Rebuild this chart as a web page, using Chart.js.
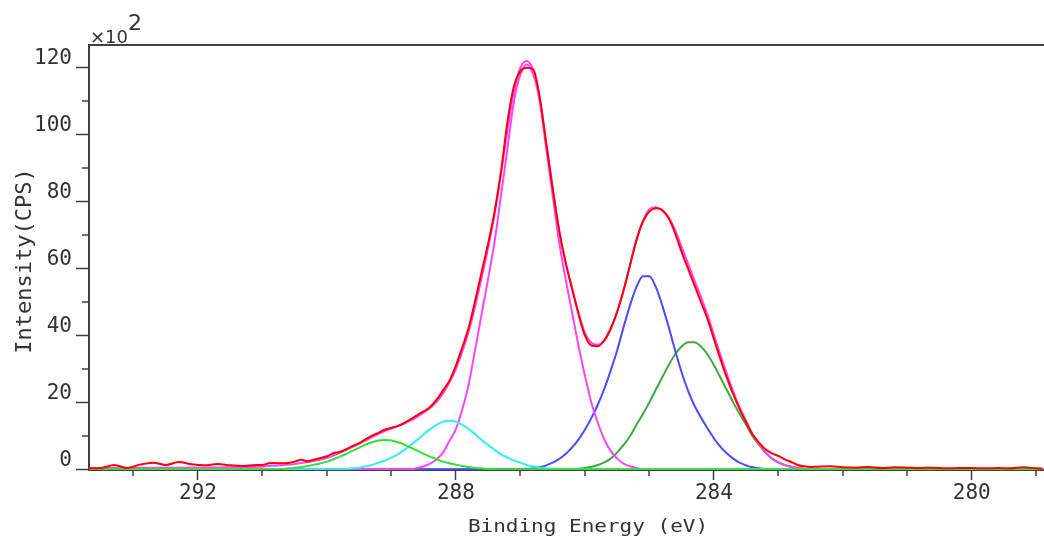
<!DOCTYPE html>
<html>
<head>
<meta charset="utf-8">
<title>C 1s</title>
<script src="https://cdn.jsdelivr.net/npm/chart.js@4.4.1/dist/chart.umd.min.js"></script>
<style>
  html, body { margin: 0; padding: 0; background: #fff; }
  #wrap { width: 1044px; height: 541px; }
</style>
</head>
<body>
<div id="wrap"><canvas id="xps" width="1044" height="541"></canvas></div>
<script>
const AXIS = '#404040';
const TEXT = '#333333';

// binding energy grid for the fitted curves (eV), ends pinned to the plot edges
const fitEnergy = [
  293.7,
  291.0, 290.9, 290.8, 290.7, 290.6, 290.5, 290.4, 290.3, 290.2, 290.1,
  290.0, 289.9, 289.8, 289.7, 289.6, 289.5, 289.4, 289.3, 289.2, 289.1,
  289.0, 288.9, 288.8, 288.7, 288.6, 288.5, 288.4, 288.3, 288.2, 288.1,
  288.0, 287.9, 287.8, 287.7, 287.6, 287.5, 287.4, 287.3, 287.2, 287.1,
  287.0, 286.9, 286.8, 286.7, 286.6, 286.5, 286.4, 286.3, 286.2, 286.1,
  286.0, 285.9, 285.8, 285.7, 285.6, 285.5, 285.4, 285.3, 285.2, 285.1,
  285.0, 284.9, 284.8, 284.7, 284.6, 284.5, 284.4, 284.3, 284.2, 284.1,
  284.0, 283.9, 283.8, 283.7, 283.6, 283.5, 283.4, 283.3, 283.2, 283.1,
  283.0, 282.9, 282.8, 282.7, 282.6, 282.5, 282.4,
  278.9
];

// component near 289.1 eV (x100 CPS)
const peakLightGreen = [
  0,
  0, 0, 0.05, 0.1, 0.3, 0.4, 0.7, 1.0, 1.4, 1.8,
  2.3, 3.0, 3.8, 4.6, 5.6, 6.5, 7.4, 8.1, 8.6, 8.8,
  8.6, 8.1, 7.4, 6.5, 5.6, 4.6, 3.8, 3.0, 2.3, 1.8,
  1.4, 1.0, 0.7, 0.4, 0.3, 0.1, 0.05, 0, 0, 0,
  0, 0, 0, 0, 0, 0, 0, 0, 0, 0,
  0, 0, 0, 0, 0, 0, 0, 0, 0, 0,
  0, 0, 0, 0, 0, 0, 0, 0, 0, 0,
  0, 0, 0, 0, 0, 0, 0, 0, 0, 0,
  0, 0, 0, 0, 0, 0, 0,
  0
];

// component near 288.1 eV
const peakCyan = [
  0,
  0, 0, 0, 0, 0, 0, 0, 0, 0, 0,
  0, 0, 0, 0.1, 0.3, 0.5, 0.9, 1.3, 2.0, 2.6,
  3.5, 4.5, 5.8, 7.3, 8.8, 10.5, 12.0, 13.3, 14.2, 14.5,
  14.2, 13.3, 12.0, 10.5, 8.8, 7.3, 5.8, 4.5, 3.5, 2.6,
  2.0, 1.3, 0.9, 0.5, 0.3, 0.1, 0, 0, 0, 0,
  0, 0, 0, 0, 0, 0, 0, 0, 0, 0,
  0, 0, 0, 0, 0, 0, 0, 0, 0, 0,
  0, 0, 0, 0, 0, 0, 0, 0, 0, 0,
  0, 0, 0, 0, 0, 0, 0,
  0
];

// component near 286.9 eV
const peakMagenta = [
  0,
  0, 0, 0, 0, 0, 0, 0, 0, 0, 0,
  0, 0, 0, 0, 0, 0, 0, 0, 0, 0,
  0, 0, 0, 0, 0.4, 0.9, 1.7, 3.0, 5.0, 8.5,
  12, 18, 25.5, 36, 46.5, 57, 68, 82, 96, 110,
  118, 121, 118, 110, 96, 82, 68, 57, 47, 37,
  28, 20, 14, 9, 5.5, 3.2, 1.7, 0.9, 0.4, 0,
  0, 0, 0, 0, 0, 0, 0, 0, 0, 0,
  0, 0, 0, 0, 0, 0, 0, 0, 0, 0,
  0, 0, 0, 0, 0, 0, 0,
  0
];

// component near 285.05 eV
const peakBlue = [
  0,
  0, 0, 0, 0, 0, 0, 0, 0, 0, 0,
  0, 0, 0, 0, 0, 0, 0, 0, 0, 0,
  0, 0, 0, 0, 0, 0, 0, 0, 0, 0,
  0, 0, 0, 0, 0, 0, 0, 0, 0, 0,
  0, 0.1, 0.3, 0.6, 1.2, 2.0, 3.1, 4.6, 6.5, 8.9,
  11.8, 15.3, 19.3, 24, 29.5, 35.5, 42.5, 49, 54.5, 57.7,
  57.7, 54.5, 49, 42.5, 35.5, 29, 23.5, 19, 15.5, 12.3,
  9.3, 6.8, 4.8, 3.2, 2.0, 1.2, 0.6, 0.3, 0.1, 0,
  0, 0, 0, 0, 0, 0, 0,
  0
];

// component near 284.35 eV
const peakGreen = [
  0,
  0, 0, 0, 0, 0, 0, 0, 0, 0, 0,
  0, 0, 0, 0, 0, 0, 0, 0, 0, 0,
  0, 0, 0, 0, 0, 0, 0, 0, 0, 0,
  0, 0, 0, 0, 0, 0, 0, 0, 0, 0,
  0, 0, 0, 0, 0, 0, 0, 0, 0.1, 0.2,
  0.4, 0.8, 1.3, 2.1, 3.2, 5.0, 7.3, 9.9, 13.3, 16.5,
  20.0, 23.8, 27.5, 31.2, 34.4, 36.7, 38.0, 38.0, 36.7, 34.4,
  31.2, 27.5, 23.8, 20.0, 16.5, 13.3, 9.9, 7.3, 5.0, 3.2,
  2.1, 1.3, 0.8, 0.4, 0.2, 0.1, 0,
  0
];

// fitted envelope (components plus background)
const envelope = [
  0.4,
  0.8, 1.0, 1.1, 1.2, 1.4, 1.6, 1.9, 2.2, 2.5, 2.9,
  3.4, 4.1, 4.9, 5.8, 6.7, 7.6, 8.6, 9.6, 10.6, 11.5,
  12.2, 12.9, 13.7, 14.6, 15.7, 16.9, 18.3, 20.2, 22.7, 25.9,
  30.0, 35.2, 41.3, 48.8, 57.3, 66.3, 76.3, 88.5, 101.5, 113.0,
  120.0, 122.0, 119.2, 111.1, 97.5, 84.1, 71.5, 62.0, 54.3, 47.0,
  40.8, 37.8, 37.2, 38.5, 42.0, 47.0, 53.5, 61.0, 68.5, 74.2,
  77.7, 78.3, 77.3, 75.2, 71.5, 66.5, 61.5, 56.5, 51.5, 46.3,
  40.3, 34.3, 28.6, 23.2, 18.5, 14.5, 10.5, 7.6, 5.1, 3.3,
  2.1, 1.3, 0.8, 0.4, 0.2, 0.1, 0,
  0
];

// measured spectrum
const rawEnergy = [
  293.7, 293.5, 293.3, 293.1, 292.9, 292.7, 292.5, 292.3, 292.1, 291.9, 291.7, 291.5, 291.3, 291.1,
  291.0, 290.9, 290.8, 290.7, 290.6, 290.5, 290.4, 290.3, 290.2, 290.1,
  290.0, 289.9, 289.8, 289.7, 289.6, 289.5, 289.4, 289.3, 289.2, 289.1,
  289.0, 288.9, 288.8, 288.7, 288.6, 288.5, 288.4, 288.3, 288.2, 288.1,
  288.0, 287.9, 287.8, 287.7, 287.6, 287.5, 287.4, 287.3, 287.2, 287.1,
  287.0, 286.9, 286.8, 286.7, 286.6, 286.5, 286.4, 286.3, 286.2, 286.1,
  286.0, 285.9, 285.8, 285.7, 285.6, 285.5, 285.4, 285.3, 285.2, 285.1,
  285.0, 284.9, 284.8, 284.7, 284.6, 284.5, 284.4, 284.3, 284.2, 284.1,
  284.0, 283.9, 283.8, 283.7, 283.6, 283.5, 283.4, 283.3, 283.2, 283.1,
  283.0, 282.9, 282.8, 282.7, 282.6, 282.5, 282.4,
  282.2, 282.0, 281.8, 281.6, 281.4, 281.2, 281.0, 280.8, 280.6, 280.4, 280.2, 280.0,
  279.8, 279.6, 279.4, 279.2, 279.0, 278.9
];
const rawCounts = [
  0.3, 0.4, 1.3, 0.4, 1.4, 2.0, 1.3, 2.2, 1.5, 1.2, 1.6, 1.2, 1.0, 1.3,
  1.3, 1.8, 1.9, 1.8, 1.9, 2.3, 2.9, 2.4, 2.9, 3.4,
  3.9, 4.8, 5.2, 6.0, 7.0, 7.8, 9.0, 10.1, 10.9, 11.9,
  12.4, 13.0, 13.9, 15.0, 16.2, 17.3, 18.6, 20.8, 23.6, 26.5,
  31.0, 36.5, 42.5, 50.5, 59.0, 67.5, 77.0, 89.0, 104.0, 114.5,
  119.0, 120.0, 119.5, 111.0, 97.5, 84.0, 71.5, 62.0, 54.0, 46.5,
  40.0, 37.0, 36.8, 38.5, 42.0, 47.0, 53.5, 61.0, 68.5, 74.0,
  77.0, 78.0, 77.5, 75.0, 70.5, 65.0, 60.0, 55.0, 50.0, 45.0,
  39.0, 33.0, 27.5, 22.5, 18.0, 14.0, 10.5, 8.0, 6.0, 4.8,
  4.0, 3.0, 2.2, 1.3, 0.9, 0.7, 0.8,
  0.9, 0.6, 0.5, 0.7, 0.4, 0.6, 0.5, 0.4, 0.5, 0.3, 0.4, 0.4,
  0.3, 0.4, 0.3, 0.6, 0.3, 0.2
];

// unlabelled tick positions
const minorX = [293, 291, 290, 289, 287, 286, 285, 283, 282, 281, 279];
const minorY = [10, 30, 50, 70, 90, 110];

const pts = (xs, ys) => xs.map((x, i) => ({ x, y: ys[i] }));

const line = (label, xs, ys, color) => ({
  label,
  data: pts(xs, ys),
  borderColor: color,
  borderWidth: 2,
  pointRadius: 0,
  fill: false,
  cubicInterpolationMode: 'monotone',
});

// axis titles, the x10^2 multiplier, top frame and the short ticks
const frame = {
  id: 'frame',
  afterDraw(chart) {
    const { ctx, chartArea: a, scales: { x, y } } = chart;
    ctx.save();
    ctx.strokeStyle = AXIS;
    ctx.lineWidth = 2;
    ctx.beginPath();
    ctx.moveTo(a.left - 1, a.top);
    ctx.lineTo(a.right, a.top);
    ctx.stroke();

    ctx.lineWidth = 1.5;
    ctx.beginPath();
    for (const v of minorX) {
      const px = Math.round(x.getPixelForValue(v));
      ctx.moveTo(px, a.bottom);
      ctx.lineTo(px, a.bottom + 6);
    }
    for (const v of minorY) {
      const py = Math.round(y.getPixelForValue(v));
      ctx.moveTo(a.left - 7, py);
      ctx.lineTo(a.left, py);
    }
    ctx.stroke();

    ctx.fillStyle = TEXT;
    ctx.textAlign = 'center';
    ctx.textBaseline = 'alphabetic';
    ctx.save();
    ctx.translate(588, 532);
    ctx.scale(1.2, 1);
    ctx.font = '17.5px "DejaVu Sans Mono"';
    ctx.fillText('Binding Energy (eV)', 0, 0);
    ctx.restore();

    ctx.save();
    ctx.translate(31, 261);
    ctx.rotate(-Math.PI / 2);
    ctx.font = '22px "DejaVu Sans Mono"';
    ctx.fillText('Intensity(CPS)', 0, 0);
    ctx.restore();

    ctx.textAlign = 'left';
    ctx.font = '18px "DejaVu Sans"';
    ctx.fillText('\u00d710', 90, 43);
    ctx.font = '22px "DejaVu Sans"';
    ctx.fillText('2', 128, 30);
    ctx.restore();
  },
};

Chart.defaults.font.family = '"DejaVu Sans Mono", monospace';

new Chart(document.getElementById('xps'), {
  type: 'line',
  data: {
    datasets: [
      line('Raw', rawEnergy, rawCounts, '#ff0000'),
      line('C5', fitEnergy, peakLightGreen, '#33e033'),
      line('Envelope', fitEnergy, envelope, '#ff44ff'),
      line('C4', fitEnergy, peakCyan, '#33f0f0'),
      line('C3', fitEnergy, peakMagenta, '#ff44ff'),
      line('C2', fitEnergy, peakBlue, '#4a4aff'),
      line('C1', fitEnergy, peakGreen, '#3caa3c'),
    ],
  },
  options: {
    responsive: false,
    devicePixelRatio: 1,
    animation: false,
    events: [],
    layout: { padding: { top: 45, right: 0, left: 0, bottom: 0 } },
    plugins: { legend: { display: false }, tooltip: { enabled: false } },
    scales: {
      x: {
        type: 'linear',
        reverse: true,
        min: 278.88,
        max: 293.69,
        ticks: {
          stepSize: 4, includeBounds: false, autoSkip: false, maxRotation: 0,
          color: TEXT, font: { size: 21 }, padding: 1,
        },
        grid: { drawOnChartArea: false, drawTicks: true, tickLength: 10, tickColor: AXIS, tickWidth: 1.5 },
        border: { display: true, color: AXIS, width: 2 },
        afterFit(s) { s.height = 71; },
      },
      y: {
        min: -0.2,
        max: 126.8,
        ticks: {
          stepSize: 20, includeBounds: false, color: TEXT,
          font: { size: 21 }, padding: 4, labelOffset: -9,
        },
        grid: { drawOnChartArea: false, drawTicks: true, tickLength: 13, tickColor: AXIS, tickWidth: 1.5 },
        border: { display: true, color: AXIS, width: 2 },
        afterFit(s) { s.width = 89; },
      },
    },
  },
  plugins: [frame],
});
</script>
</body>
</html>
